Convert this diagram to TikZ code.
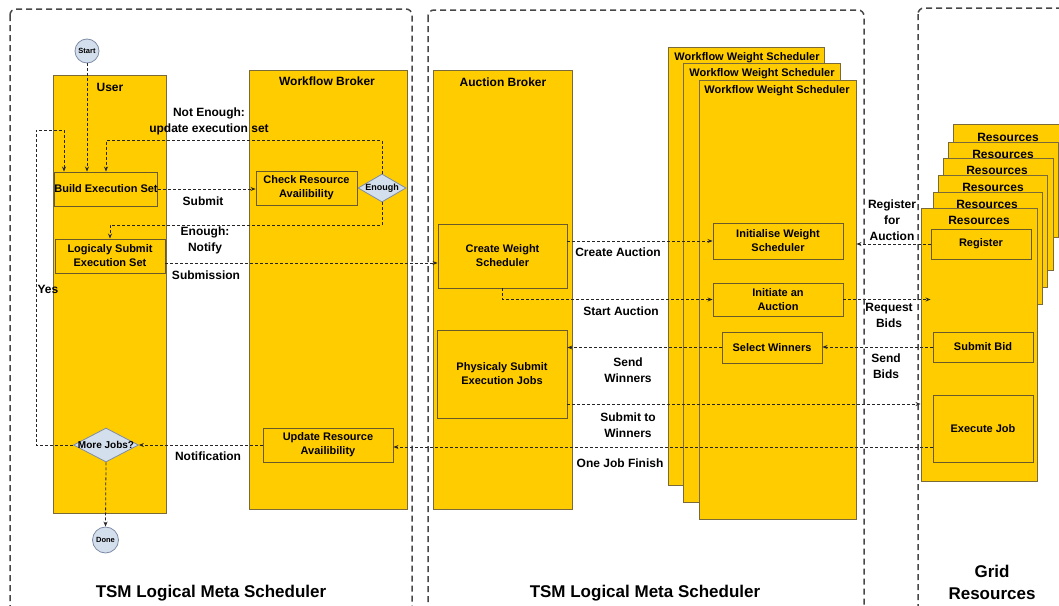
\documentclass[tikz,border=0pt]{standalone}
\usepackage{fontspec}
\setmainfont{Liberation Sans}
\usetikzlibrary{arrows.meta,shapes.geometric}
\definecolor{ylw}{HTML}{FFCC00}
\definecolor{lanebd}{HTML}{7A6A3A}
\definecolor{boxbd}{HTML}{6A5A2A}
\definecolor{bluef}{HTML}{D4DFEE}
\definecolor{blued}{HTML}{7E8CA6}
\definecolor{dashc}{HTML}{474747}
\definecolor{flowc}{HTML}{262626}
\tikzset{
 lane/.style={draw=lanebd, fill=ylw, line width=0.9pt, inner sep=0pt, rectangle},
 inbox/.style={draw=boxbd, fill=ylw, line width=0.9pt, inner sep=0pt, rectangle, align=center, font=\fontsize{11}{14}\selectfont\bfseries},
 ttl/.style={font=\fontsize{12}{14}\selectfont\bfseries, inner sep=0pt},
 wttl/.style={font=\fontsize{11}{13}\selectfont\bfseries, inner sep=0pt},
 lbl/.style={font=\fontsize{12}{16}\selectfont\bfseries, align=center, inner sep=0pt},
 big/.style={font=\fontsize{17}{22}\selectfont\bfseries, align=center, inner sep=0pt},
 term/.style={circle, draw=blued, fill=bluef, line width=0.8pt, inner sep=0pt, font=\fontsize{7.5}{8}\selectfont\bfseries},
 decide/.style={diamond, draw=blued, fill=bluef, line width=0.8pt, inner sep=0pt},
 flow/.style={draw=flowc, line width=0.8pt, dash pattern=on 3pt off 2pt, -{Stealth[length=5pt,width=4pt]}},
 region/.style={draw=dashc, line width=1.5pt, dash pattern=on 6pt off 4pt, rounded corners=6pt},
}
\begin{document}
\begin{tikzpicture}[x=1pt,y=-1pt]
\useasboundingbox (0,0) rectangle (1059,605);
% regions
\draw[region] (10,9) rectangle (412,615);
\draw[region] (428,10) rectangle (864,615);
\draw[region] (918,8) rectangle (1075,615);
% lanes
\node[lane, minimum width=113pt, minimum height=438pt] (user) at (109.5,294) {};
\node[ttl] (userT) at (110,87) {User};
\node[lane, minimum width=158pt, minimum height=439pt] (wb) at (328,289.5) {};
\node[ttl] (wbT) at (327,81) {Workflow Broker};
\node[lane, minimum width=139pt, minimum height=439pt] (ab) at (502.5,289.5) {};
\node[ttl] (abT) at (503,82) {Auction Broker};
\node[lane, minimum width=156pt, minimum height=438pt] (wws1) at (746,266) {};
\node[wttl] (wws1T) at (747,58) {Workflow Weight Scheduler};
\node[lane, minimum width=157pt, minimum height=439pt] (wws2) at (761.5,282.5) {};
\node[wttl] (wws2T) at (762,74) {Workflow Weight Scheduler};
\node[lane, minimum width=157pt, minimum height=439pt] (wws3) at (777.5,299.5) {};
\node[wttl] (wws3T) at (777,91) {Workflow Weight Scheduler};
% resources stack
\node[lane, minimum width=113pt, minimum height=98pt] (res1) at (1009.5,173) {};
\node[ttl] (res1T) at (1008,137) {Resources};
\node[lane, minimum width=110pt, minimum height=95pt] (res2) at (1003,189.5) {};
\node[ttl] (res2T) at (1003,154) {Resources};
\node[lane, minimum width=110pt, minimum height=112pt] (res3) at (998,214) {};
\node[ttl] (res3T) at (997,170.5) {Resources};
\node[lane, minimum width=109pt, minimum height=112pt] (res4) at (992.5,231) {};
\node[ttl] (res4T) at (993,187) {Resources};
\node[lane, minimum width=109pt, minimum height=112pt] (res5) at (987.5,248) {};
\node[ttl] (res5T) at (987,204) {Resources};
\node[lane, minimum width=116pt, minimum height=273pt] (res6) at (979,344.5) {};
\node[ttl] (res6T) at (979,220.5) {Resources};
% inner boxes
\node[inbox, minimum width=102pt, minimum height=34pt] (build) at (106,189) {Build Execution Set};
\node[inbox, minimum width=110pt, minimum height=34pt] (lsub) at (110,256) {Logicaly Submit\\Execution Set};
\node[inbox, minimum width=101pt, minimum height=34pt] (check) at (306.5,188) {Check Resource\\Availibility};
\node[inbox, minimum width=130pt, minimum height=34pt] (upd) at (328,445) {Update Resource\\Availibility};
\node[inbox, minimum width=129pt, minimum height=64pt] (cws) at (502.5,256) {Create Weight\\Scheduler};
\node[inbox, minimum width=130pt, minimum height=88pt] (pse) at (502,374) {Physicaly Submit\\Execution Jobs};
\node[inbox, minimum width=130pt, minimum height=36pt] (iws) at (778,241) {Initialise Weight\\Scheduler};
\node[inbox, minimum width=130pt, minimum height=33pt] (ia) at (778,299.5) {Initiate an\\Auction};
\node[inbox, minimum width=100pt, minimum height=31pt] (sw) at (772,347.5) {Select Winners};
\node[inbox, minimum width=100pt, minimum height=30pt] (reg) at (981,244) {Register};
\node[inbox, minimum width=100pt, minimum height=30pt] (sb) at (983,347) {Submit Bid};
\node[inbox, minimum width=100pt, minimum height=67pt] (ej) at (983,428.5) {Execute Job};
% terminals and decisions
\node[term, minimum size=24pt] (start) at (87,51) {Start};
\node[term, minimum size=26pt] (done) at (105.5,540) {Done};
\node[decide, minimum width=65pt, minimum height=34pt] (more) at (106,445) {\fontsize{10}{11}\selectfont\bfseries\makebox[0pt]{More Jobs?}};
\node[decide, minimum width=48pt, minimum height=28pt] (enough) at (382,188) {\fontsize{9}{10}\selectfont\bfseries\makebox[0pt]{Enough}};
% coordinates
\coordinate (yesA) at (36,130);
\coordinate (s1) at ([yshift=-7pt]lsub.east);
\coordinate (s2) at ([yshift=-30pt]pse.east);
\coordinate (s3) at ([yshift=-18.5pt]ej.west);
\coordinate (bIn) at ([xshift=-42pt]build.north);
% connectors
\draw[flow] (start) -- (start |- build.north);
\draw[flow] (more.west) -| (yesA) -| (bIn);
\draw[flow] (enough.north) -- ++(0,-33) -| (build.north);
\draw[flow] (build.east) -- (build.east -| check.west);
\draw[flow] (enough.south) -- ++(0,23) -| (lsub.north);
\draw[flow] (s1) -- (s1 -| cws.west);
\draw[flow] (iws.west -| cws.east) -- (iws.west);
\draw[flow] (cws.south) |- (ia.west);
\draw[flow] (ia.east) -- (ia.east -| reg.west);
\draw[flow] (reg.west) -- (reg.west -| wws3.east);
\draw[flow] (sb.west) -- (sb.west -| sw.east);
\draw[flow] (sw.west) -- (sw.west -| pse.east);
\draw[flow] (s2) -- (s2 -| res6.west);
\draw[flow] (s3) -- (s3 -| upd.east);
\draw[flow] (upd.west) -- (more.east);
\draw[flow] (more.south) -- (done.north);
% labels
\node[lbl] (notEnoughL) at (209,121.5) {Not Enough:\\update execution set};
\node[lbl] (submitL) at (203,201) {Submit};
\node[lbl] (enoughL) at (205,240) {Enough:\\Notify};
\node[lbl] (submissionL) at (206,275) {Submission};
\node[lbl] (yesL) at (48,289) {Yes};
\node[lbl] (notifL) at (208,456) {Notification};
\node[lbl] (createAucL) at (618,252) {Create Auction};
\node[lbl] (startAucL) at (621,311) {Start Auction};
\node[lbl] (sendWinL) at (628,370) {Send\\Winners};
\node[lbl] (submitWinL) at (628,425) {Submit to\\Winners};
\node[lbl] (oneJobL) at (620,463) {One Job Finish};
\node[lbl] (regAucL) at (892,220) {Register\\for\\Auction};
\node[lbl] (reqBidsL) at (889,315) {Request\\Bids};
\node[lbl] (sendBidsL) at (886,366.5) {Send\\Bids};
\node[big] (tsm1) at (211,593) {TSM Logical Meta Scheduler};
\node[big] (tsm2) at (645,593) {TSM Logical Meta Scheduler};
\node[big] (grid) at (992,582) {Grid\\Resources};
\end{tikzpicture}
\end{document}
